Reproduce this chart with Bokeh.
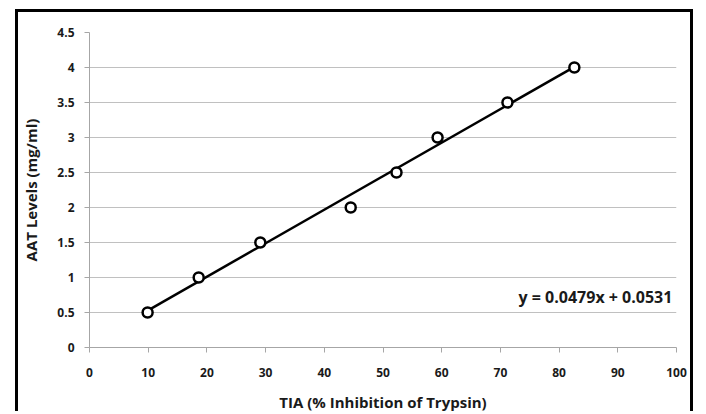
from bokeh.plotting import figure
from bokeh.models import Range1d, ColumnDataSource, Label, FixedTicker, NumeralTickFormatter
from bokeh.embed import file_html
from bokeh.resources import INLINE

# ---- data ----
tia = [9.9, 18.6, 29.1, 44.5, 52.3, 59.3, 71.2, 82.6]
aat = [0.5, 1.0, 1.5, 2.0, 2.5, 3.0, 3.5, 4.0]
slope = 0.0479
intercept = 0.0531
x_ticks = [0, 10, 20, 30, 40, 50, 60, 70, 80, 90, 100]
y_ticks = [0, 0.5, 1, 1.5, 2, 2.5, 3, 3.5, 4, 4.5]
equation = "y = 0.0479x + 0.0531"
x_title = "TIA (% Inhibition of Trypsin)"
y_title = "AAT Levels (mg/ml)"

FONT = "Open Sans"

p = figure(width=678, height=402, output_backend="svg", toolbar_location=None,
           x_range=Range1d(0, 100), y_range=Range1d(0, 4.5),
           min_border_left=71, min_border_right=20, min_border_top=20, min_border_bottom=66)
p.margin = (9, 0, 0, 15)
p.styles = {"border": "3px solid black", "border-bottom": "none"}
p.outline_line_color = None
p.background_fill_color = "white"
p.border_fill_color = "white"

# axes
for ax in (p.xaxis[0], p.yaxis[0]):
    ax.axis_line_color = "#a6a6a6"
    ax.axis_line_width = 1
    ax.major_tick_line_color = "#a6a6a6"
    ax.major_tick_out = 5
    ax.major_tick_in = 0
    ax.minor_tick_line_color = None
    ax.major_label_text_font = FONT
    ax.major_label_text_font_style = "bold"
    ax.major_label_text_font_size = "12px"
    ax.major_label_text_color = "#1a1a1a"
    ax.axis_label_text_font = FONT
    ax.axis_label_text_font_style = "bold"
    ax.axis_label_text_font_size = "15px"
    ax.axis_label_text_color = "#1a1a1a"

p.xaxis.ticker = FixedTicker(ticks=x_ticks)
p.yaxis.ticker = FixedTicker(ticks=y_ticks)
p.yaxis.formatter = NumeralTickFormatter(format="0.[0]")
p.xaxis.major_label_standoff = 15
p.yaxis.major_label_standoff = 10
p.xaxis.axis_label = x_title
p.yaxis.axis_label = y_title
p.xaxis.axis_label_standoff = 12
p.yaxis.axis_label_standoff = 13

p.xgrid.grid_line_color = None
p.ygrid.grid_line_color = "#c0c0c0"
p.ygrid.grid_line_width = 1

# trend line over the data range
x0, x1 = min(tia), max(tia)
p.line([x0, x1], [slope * x0 + intercept, slope * x1 + intercept],
       line_color="black", line_width=2.5)

src = ColumnDataSource(dict(x=tia, y=aat))
p.scatter("x", "y", source=src, marker="circle", size=10,
          fill_color="white", line_color="black", line_width=2.5)

p.add_layout(Label(x=99.3, y=0.726, text=equation, text_align="right",
                   text_baseline="middle", text_font=FONT, text_font_style="bold",
                   text_font_size="16px", text_color="#1a1a1a"))

open("out.html", "w").write(file_html(p, INLINE))
